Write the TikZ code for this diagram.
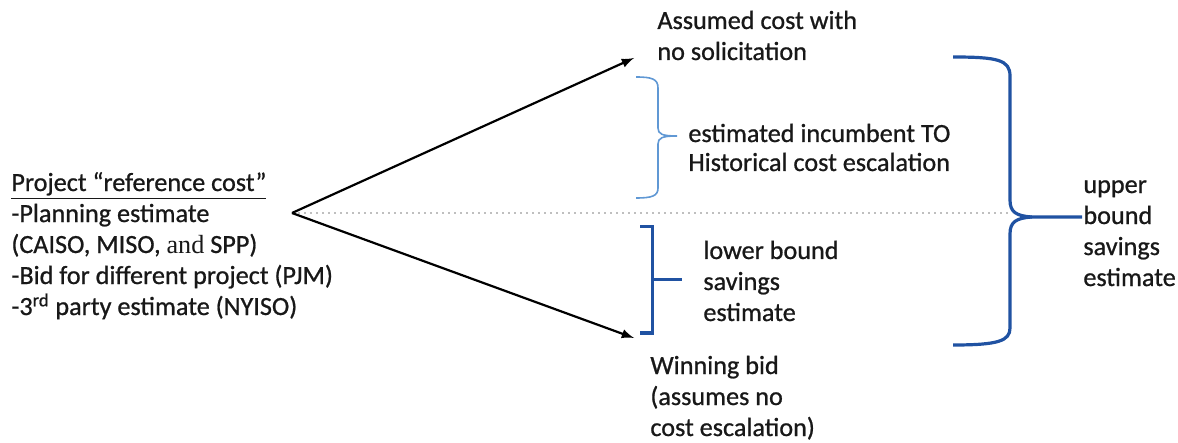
\documentclass[tikz,border=0pt]{standalone}
\usepackage{fontspec}
\setmainfont{Carlito}[FakeBold=0.8]
\newfontfamily\serifschrift{Liberation Serif}
\definecolor{dunkelblau}{RGB}{32,82,162}
\definecolor{hellblau}{RGB}{96,152,212}
\definecolor{schrift}{RGB}{24,24,24}
\begin{document}
\begin{tikzpicture}[x=0.5pt,y=-0.5pt,
	txt/.style={anchor=base west,align=left,inner sep=0pt,text=schrift,font=\fontsize{13.1}{15.5}\selectfont}]
		\useasboundingbox (0,0) rectangle (1178,443);
		%Texte (Anker: Grundlinie der letzten Zeile)
		\node[txt] (referenz) at (11,315) {\underline{Project “reference cost”}\\-Planning estimate\\(CAISO, MISO, {\serifschrift and} SPP)\\-Bid for different project (PJM)\\-3\textsuperscript{rd} party estimate (NYISO)};
		\node[txt] (ohne) at (657,60) {Assumed cost with\\no solicitation};
		\node[txt, font=\fontsize{13.1}{14.5}\selectfont] (historisch) at (688,171) {estimated incumbent TO\\Historical cost escalation};
		\node[txt] (untergrenze) at (703,321) {lower bound\\savings\\estimate};
		\node[txt] (gebot) at (650,436) {Winning bid\\(assumes no\\cost escalation)};
		\node[txt] (obergrenze) at (1083,286) {upper\\bound\\savings\\estimate};
		%Mittellinie
		\coordinate (spitze) at (292,213);
		\coordinate (mitte) at (1012,213);
		\draw[gray!50, dotted, line width=1pt] (spitze) -- (mitte);
		%Pfeile
		\coordinate (oben) at (634,58);
		\coordinate (unten) at (634,338);
		\draw[line width=1.1pt,>=latex,->] (spitze) -- (oben);
		\draw[line width=1.1pt,>=latex,->] (spitze) -- (unten);
		%Klammern
		\draw[color=hellblau, line width=0.8pt] (636,77) .. controls (652,77) and (658,79) .. (658,88) -- (658,128) .. controls (658,134) and (662,136) .. (677,136) .. controls (662,136) and (658,138) .. (658,144) -- (658,188) .. controls (658,196) and (652,198) .. (636,198);
		\draw[color=dunkelblau, line width=1.5pt] (640,227) -- (652,227) -- (652,333) -- (640,333);
		\draw[color=dunkelblau, line width=1.5pt] (652,280) -- (682,280);
		\draw[color=dunkelblau, line width=1.6pt] (953,57) .. controls (998,57) and (1010,60) .. (1010,76) -- (1010,200) .. controls (1010,212) and (1016,216) .. (1032,217) -- (1082,217);
		\draw[color=dunkelblau, line width=1.6pt] (1032,217) .. controls (1016,218) and (1010,222) .. (1010,234) -- (1010,328) .. controls (1010,341) and (998,345) .. (953,345);
	\end{tikzpicture}
\end{document}
